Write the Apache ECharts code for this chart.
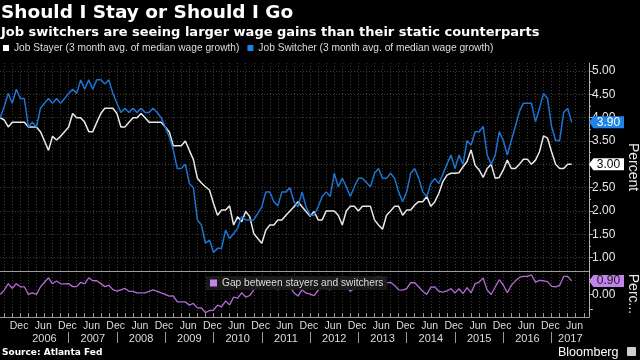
<!DOCTYPE html>
<html><head><meta charset="utf-8">
<script src="https://cdn.jsdelivr.net/npm/echarts@6/dist/echarts.min.js"></script>
<style>html,body{margin:0;padding:0;background:#000;}#c{width:640px;height:360px;}</style>
</head><body><div id="c"></div>
<script>
// Month index: 0 = Jan 2006. First data point = Aug 2005 (index -5), monthly.
const firstMonth = -5;
const stayer = [
  4.00, 3.95, 3.80, 3.90, 3.90,
  3.90, 3.90, 3.80, 3.80, 3.80, 3.70, 3.50, 3.30, 3.60, 3.52, 3.60, 3.70,
  3.80, 4.09, 4.00, 4.00, 3.90, 3.70, 3.70, 3.90, 4.09, 4.20, 4.20, 4.20,
  4.09, 3.80, 3.80, 3.90, 4.00, 4.00, 4.09, 4.00, 3.90, 3.90, 3.90, 3.90,
  3.80, 3.70, 3.40, 3.40, 3.40, 3.50, 3.30, 3.10, 2.70, 2.60, 2.52, 2.45,
  2.16, 1.91, 2.02, 2.02, 2.11, 1.70, 1.88, 1.77, 1.99, 1.88, 1.52, 1.41,
  1.31, 1.59, 1.70, 1.70, 1.81, 1.81, 1.91, 2.00, 2.09, 2.20, 2.09, 1.99,
  1.89, 1.99, 1.81, 1.81, 2.00, 2.00, 2.00, 1.91, 1.70, 2.00, 2.10, 2.10,
  2.00, 2.10, 2.10, 2.10, 1.81, 1.70, 1.61, 1.91, 2.00, 2.10, 2.10, 1.91,
  2.02, 2.02, 2.13, 2.20, 2.20, 2.31, 2.10, 2.20, 2.38, 2.63, 2.77, 2.81,
  2.81, 2.82, 2.95, 3.06, 3.31, 2.98, 2.88, 2.72, 2.91, 3.00, 2.70, 2.72,
  2.88, 3.09, 2.91, 2.91, 3.00, 3.11, 3.11, 3.00, 3.09, 3.27, 3.61, 3.56,
  3.27, 3.00, 2.91, 2.91, 3.00, 3.00
];
const switcher = [
  4.00, 4.24, 4.52, 4.31, 4.61,
  4.41, 4.41, 3.80, 3.90, 3.80, 4.20, 4.31, 4.41, 4.31, 4.41, 4.31, 4.41,
  4.52, 4.61, 4.52, 4.81, 4.61, 4.81, 4.61, 4.81, 4.81, 4.72, 4.81, 4.52,
  4.31, 4.11, 4.20, 4.11, 4.20, 4.11, 4.20, 4.11, 4.11, 4.20, 4.11, 4.00,
  3.80, 3.59, 3.31, 2.91, 2.91, 3.00, 2.59, 2.50, 1.81, 1.70, 1.31, 1.38,
  1.11, 1.20, 1.20, 1.59, 1.41, 1.52, 1.63, 1.88, 1.81, 1.81, 1.81, 1.95,
  2.09, 2.41, 2.41, 2.20, 2.11, 2.41, 2.41, 2.50, 2.20, 2.09, 2.41, 2.09,
  1.91, 1.91, 2.09, 2.31, 2.41, 2.31, 2.81, 2.52, 2.70, 2.52, 2.31, 2.52,
  2.70, 2.70, 2.61, 2.52, 2.81, 2.91, 2.70, 2.70, 2.81, 2.70, 2.41, 2.20,
  2.41, 2.81, 2.91, 2.70, 2.41, 2.31, 2.59, 2.70, 2.59, 2.79, 3.00, 3.20,
  2.91, 3.20, 3.00, 3.51, 3.41, 3.70, 3.70, 3.81, 3.20, 3.00, 3.20, 3.70,
  3.51, 3.20, 3.51, 3.81, 4.13, 4.31, 4.31, 4.31, 3.91, 4.20, 4.52, 4.41,
  3.81, 3.51, 3.51, 4.11, 4.20, 3.90
];
// Gap between stayers and switchers (switcher minus stayer), monthly
const gap = [
  0.00, 0.29, 0.72, 0.41, 0.71,
  0.51, 0.51, 0.00, 0.10, 0.00, 0.50, 0.81, 1.11, 0.71, 0.89, 0.71, 0.71,
  0.72, 0.52, 0.52, 0.81, 0.71, 1.11, 0.91, 0.91, 0.72, 0.52, 0.61, 0.32,
  0.22, 0.31, 0.40, 0.21, 0.20, 0.11, 0.11, 0.11, 0.21, 0.30, 0.21, 0.10,
  0.00, -0.11, -0.09, -0.49, -0.49, -0.50, -0.71, -0.60, -0.89, -0.90, -1.21, -1.07,
  -1.05, -0.71, -0.82, -0.43, -0.70, -0.18, -0.25, 0.11, -0.18, -0.07, 0.29, 0.54,
  0.78, 0.82, 0.71, 0.50, 0.30, 0.60, 0.50, 0.50, 0.11, -0.11, 0.32, 0.10,
  0.02, -0.08, 0.28, 0.50, 0.41, 0.31, 0.81, 0.61, 1.00, 0.52, 0.21, 0.42,
  0.70, 0.60, 0.51, 0.42, 1.00, 1.21, 1.09, 0.79, 0.81, 0.60, 0.31, 0.29,
  0.39, 0.79, 0.78, 0.50, 0.21, 0.00, 0.49, 0.50, 0.21, 0.16, 0.23, 0.39,
  0.10, 0.38, 0.05, 0.45, 0.10, 0.72, 0.82, 1.09, 0.29, 0.00, 0.50, 0.98,
  0.63, 0.11, 0.60, 0.90, 1.13, 1.20, 1.20, 1.31, 0.82, 0.93, 0.91, 0.85,
  0.54, 0.51, 0.60, 1.20, 1.20, 0.90
];

const stayerName = 'Job Stayer (3 month avg. of median wage growth)';
const switcherName = 'Job Switcher (3 month avg. of median wage growth)';
const gapName = 'Gap between stayers and switchers';
const yTickValues = [1.0, 1.5, 2.0, 2.5, 3.0, 3.5, 4.0, 4.5, 5.0];
const yMinorValues = [1.25, 1.75, 2.25, 2.75, 3.25, 3.75, 4.25, 4.75];
const gapTickValues = [-1, 0, 1];
const gapLabelValues = [0];
const years = [2006, 2007, 2008, 2009, 2010, 2011, 2012, 2013, 2014, 2015, 2016, 2017];

const XMIN = -5.05, XMAX = 141.3;
const YMIN = 0.715, YMAX = 5.171;
const GMIN = -1.5, GMAX = 1.56;

const pts = arr => arr.map((v, i) => [firstMonth + i, v]);
const twoMonthTicks = [];
for (let m = -4; m <= 140; m += 2) twoMonthTicks.push(m);
const monthLabelPos = [];
years.forEach(y => { const b = (y - 2006) * 12; monthLabelPos.push(b - 0.3, b + 5.7); });
const yearBounds = years.slice(1).map(y => (y - 2006) * 12);
const yearCenters = years.map((y, i) => i === years.length - 1 ? ((y - 2006) * 12 + XMAX) / 2 : (y - 2006) * 12 + 6);

const NARROW = '"Liberation Sans Narrow","Liberation Sans",Arial,sans-serif';
const SANS = '"Liberation Sans",Arial,sans-serif';
const BOLD = '"DejaVu Sans",sans-serif';
const gridLine = { show: true, lineStyle: { color: '#3c3c3c', type: [1, 2], width: 1 } };

function endMark(value, bg, fg) {
  return {
    symbol: 'path://M0,6 L5,0 L40,0 L40,12 L5,12 Z',
    symbolSize: [35, 12],
    symbolKeepAspect: false,
    symbolOffset: [17.5, 0],
    silent: true,
    itemStyle: { color: bg },
    label: { show: true, color: fg, fontSize: 12, fontFamily: SANS, offset: [2, 0], formatter: p => p.value.toFixed(2) },
    data: [{ coord: [XMAX, value], value: value }]
  };
}

const chart = echarts.init(document.getElementById('c'), null, { renderer: 'canvas' });
chart.setOption({
  backgroundColor: '#000',
  animation: false,
  title: [
    { text: 'Should I Stay or Should I Go', left: 1, top: 4, padding: 0, textStyle: { color: '#fff', fontSize: 18.5, fontWeight: 'bold', fontFamily: BOLD } },
    { text: 'Job switchers are seeing larger wage gains than their static counterparts', left: 1, top: 26, padding: 0, textStyle: { color: '#fff', fontSize: 13, fontWeight: 'bold', fontFamily: BOLD } },
    { text: 'Source: Atlanta Fed', left: 2, top: 348, padding: 0, textStyle: { color: '#fff', fontSize: 9, fontWeight: 'bold', fontFamily: BOLD } },
    { text: 'Bloomberg', left: 558, top: 346, padding: 0, textStyle: { color: '#fff', fontSize: 12.5, fontWeight: 'normal', fontFamily: SANS } }
  ],
  graphic: [
    { type: 'rect', left: 627, top: 347, shape: { width: 9, height: 9, r: 1 }, style: { fill: '#cfcfcf' } }
  ],
  legend: [
    { data: [stayerName, switcherName], left: 3, top: 43, padding: 0, icon: 'rect', itemWidth: 6, itemHeight: 6, itemGap: 8,
      textStyle: { color: '#ddd', fontSize: 10.2, fontFamily: NARROW } },
    { data: [gapName], left: 206, top: 276, icon: 'rect', itemWidth: 7, itemHeight: 7, padding: [2, 4],
      backgroundColor: 'rgba(28,28,28,0.9)', textStyle: { color: '#ddd', fontSize: 10.2, fontFamily: NARROW } }
  ],
  grid: [
    { left: 0, right: 51, top: 63, height: 208, outerBoundsMode: 'none', containLabel: false },
    { left: 0, right: 51, top: 271, height: 46, outerBoundsMode: 'none', containLabel: false }
  ],
  xAxis: [
    { gridIndex: 0, type: 'value', min: XMIN, max: XMAX, position: 'bottom',
      axisLine: { show: true, onZero: false, lineStyle: { color: '#9a9a9a', width: 1 } },
      axisTick: { show: false, customValues: twoMonthTicks }, axisLabel: { show: false }, splitLine: gridLine },
    { gridIndex: 1, type: 'value', min: XMIN, max: XMAX, position: 'bottom',
      axisLine: { show: true, onZero: false, lineStyle: { color: '#9a9a9a', width: 1 } },
      axisTick: { show: true, inside: true, length: 4, customValues: twoMonthTicks, lineStyle: { color: '#9a9a9a' } },
      axisLabel: { show: true, customValues: monthLabelPos, margin: 4, color: '#ddd', fontSize: 10.5, fontFamily: NARROW,
        formatter: v => (((Math.floor(v) % 12) + 12) % 12) >= 6 ? 'Dec' : 'Jun' },
      splitLine: gridLine },
    { gridIndex: 1, type: 'value', min: XMIN, max: XMAX, position: 'bottom', offset: 15,
      axisLine: { show: false, onZero: false },
      axisTick: { show: true, length: 11, customValues: yearBounds, lineStyle: { color: '#9a9a9a' } },
      axisLabel: { show: true, customValues: yearCenters, margin: 1, color: '#ddd', fontSize: 11, fontFamily: NARROW,
        formatter: v => String(2006 + Math.floor(v / 12)) },
      splitLine: { show: false } }
  ],
  yAxis: [
    { gridIndex: 0, type: 'value', position: 'right', min: YMIN, max: YMAX,
      axisLine: { show: true, onZero: false, lineStyle: { color: '#b0b0b0' } },
      axisTick: { show: true, length: 4, customValues: yTickValues, lineStyle: { color: '#b0b0b0' } },
      axisLabel: { show: true, customValues: yTickValues, margin: 3, color: '#e6e6e6', fontSize: 12, fontFamily: SANS, formatter: v => v.toFixed(2) },
      splitLine: gridLine,
      name: 'Percent', nameLocation: 'middle', nameRotate: -90, nameGap: 36,
      nameTextStyle: { color: '#e6e6e6', fontSize: 14, fontFamily: SANS } },
    { gridIndex: 0, type: 'value', position: 'right', min: YMIN, max: YMAX,
      axisLine: { show: false, onZero: false },
      axisTick: { show: true, length: 2, customValues: yMinorValues, lineStyle: { color: '#b0b0b0' } },
      axisLabel: { show: false }, splitLine: { show: false } },
    { gridIndex: 1, type: 'value', position: 'right', min: GMIN, max: GMAX,
      axisLine: { show: true, onZero: false, lineStyle: { color: '#b0b0b0' } },
      axisTick: { show: true, length: 4, customValues: gapTickValues, lineStyle: { color: '#b0b0b0' } },
      axisLabel: { show: true, customValues: gapLabelValues, margin: 3, color: '#e6e6e6', fontSize: 12, fontFamily: SANS, formatter: v => v.toFixed(2) },
      splitLine: { show: false },
      name: 'Perc...', nameLocation: 'middle', nameRotate: -90, nameGap: 36,
      nameTextStyle: { color: '#e6e6e6', fontSize: 14, fontFamily: SANS } }
  ],
  series: [
    { name: stayerName, type: 'line', xAxisIndex: 0, yAxisIndex: 0, data: pts(stayer), showSymbol: false, symbol: 'none',
      lineStyle: { color: '#e8e8e8', width: 1.5 }, itemStyle: { color: '#ffffff' },
      markPoint: endMark(stayer[stayer.length - 1], '#ffffff', '#000000') },
    { name: switcherName, type: 'line', xAxisIndex: 0, yAxisIndex: 0, data: pts(switcher), showSymbol: false, symbol: 'none',
      lineStyle: { color: '#1c74d0', width: 1.5 }, itemStyle: { color: '#1e84e6' },
      markPoint: endMark(switcher[switcher.length - 1], '#1e84e6', '#ffffff') },
    { name: gapName, type: 'line', xAxisIndex: 1, yAxisIndex: 2, data: pts(gap), showSymbol: false, symbol: 'none',
      lineStyle: { color: '#b46ad8', width: 1.3 }, itemStyle: { color: '#c184ea' },
      markPoint: endMark(gap[gap.length - 1], '#c184ea', '#1a1a1a') }
  ]
});
</script>
</body></html>
